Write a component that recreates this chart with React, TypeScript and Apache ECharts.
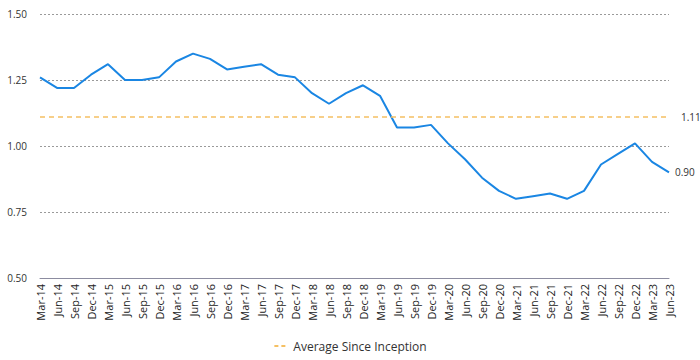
import React, { useEffect, useRef } from "react";
import * as echarts from "echarts";

const categories = [
  "Mar-14", "Jun-14", "Sep-14", "Dec-14",
  "Mar-15", "Jun-15", "Sep-15", "Dec-15",
  "Mar-16", "Jun-16", "Sep-16", "Dec-16",
  "Mar-17", "Jun-17", "Sep-17", "Dec-17",
  "Mar-18", "Jun-18", "Sep-18", "Dec-18",
  "Mar-19", "Jun-19", "Sep-19", "Dec-19",
  "Mar-20", "Jun-20", "Sep-20", "Dec-20",
  "Mar-21", "Jun-21", "Sep-21", "Dec-21",
  "Mar-22", "Jun-22", "Sep-22", "Dec-22",
  "Mar-23", "Jun-23",
];

const values = [
  1.26, 1.22, 1.22, 1.27,
  1.31, 1.25, 1.25, 1.26,
  1.32, 1.35, 1.33, 1.29,
  1.30, 1.31, 1.27, 1.26,
  1.20, 1.16, 1.20, 1.23,
  1.19, 1.07, 1.07, 1.08,
  1.01, 0.95, 0.88, 0.83,
  0.80, 0.81, 0.82, 0.80,
  0.83, 0.93, 0.97, 1.01,
  0.94, 0.90,
];

const averageSinceInception = 1.11;
const averageLabel = "Average Since Inception";

const FONT = "Open Sans";

export default function App() {
  const ref = useRef<HTMLDivElement>(null);

  useEffect(() => {
    document.body.style.margin = "0";
    if (!ref.current) return;
    const chart = echarts.init(ref.current, undefined, { renderer: "svg" });
    chart.setOption({
      animation: false,
      textStyle: { fontFamily: FONT },
      grid: { left: 40, right: 31, top: 14, bottom: 82, containLabel: false },
      legend: {
        data: [averageLabel],
        bottom: 3,
        left: "center",
        itemWidth: 14,
        itemHeight: 8,
        itemGap: 8,
        itemStyle: { opacity: 0 },
        textStyle: { fontFamily: FONT, fontSize: 12, color: "#333" },
      },
      xAxis: {
        type: "category",
        data: categories,
        boundaryGap: false,
        axisLine: { show: true, lineStyle: { color: "#8c8ca0", width: 1 } },
        axisTick: { show: false },
        axisLabel: {
          rotate: 90,
          margin: 6,
          interval: 0,
          fontSize: 11,
          color: "#222",
          fontFamily: FONT,
        },
        splitLine: { show: false },
      },
      yAxis: {
        type: "value",
        min: 0.5,
        max: 1.5,
        interval: 0.25,
        axisLine: { show: false },
        axisTick: { show: false },
        axisLabel: {
          margin: 13,
          fontSize: 10,
          color: "#333",
          fontFamily: FONT,
          formatter: (v: number) => v.toFixed(2),
        },
        splitLine: { show: true, lineStyle: { color: "#9a9a9a", type: [2, 2], width: 1 } },
      },
      series: [
        {
          name: "Ratio",
          type: "line",
          data: values,
          symbol: "none",
          lineStyle: { color: "#1a86e3", width: 2 },
          itemStyle: { color: "#1a86e3" },
          endLabel: {
            show: true,
            distance: 6,
            fontSize: 10,
            color: "#333",
            fontFamily: FONT,
            formatter: (p: any) => Number(p.value).toFixed(2),
          },
        },
        {
          name: averageLabel,
          type: "line",
          data: [],
          symbol: "none",
          lineStyle: { color: "#f5c063", width: 1.5, type: [4, 3] },
          itemStyle: { color: "#f5c063" },
          markLine: {
            silent: true,
            symbol: ["none", "none"],
            lineStyle: { color: "#f5c063", width: 1.5, type: [5, 4] },
            label: {
              show: true,
              position: "end",
              distance: 12,
              fontSize: 10,
              color: "#333",
              fontFamily: FONT,
              formatter: () => averageSinceInception.toFixed(2),
            },
            data: [{ yAxis: averageSinceInception }],
          },
        },
      ],
    });
    return () => chart.dispose();
  }, []);

  return <div ref={ref} style={{ width: 700, height: 360 }} />;
}
